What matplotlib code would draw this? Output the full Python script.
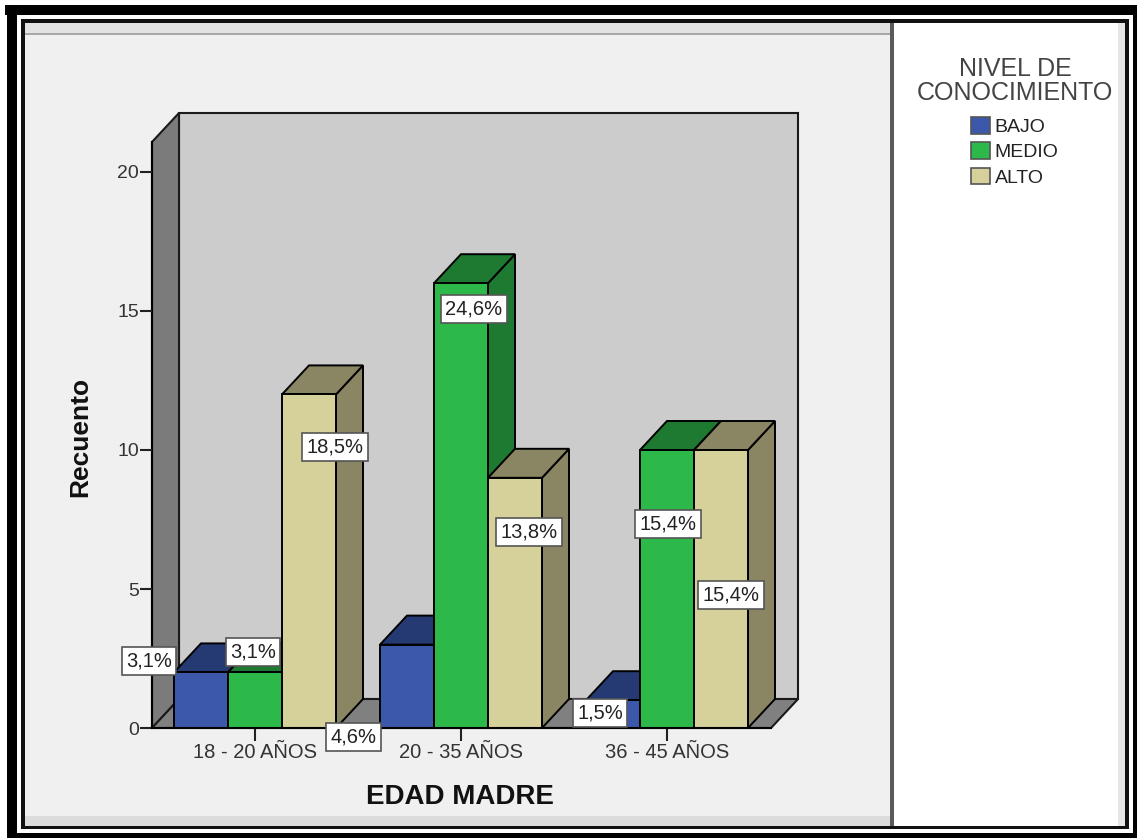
import matplotlib
matplotlib.use("Agg")
import matplotlib.pyplot as plt
from matplotlib.patches import Polygon, Rectangle

plt.rcParams['font.family'] = ['Liberation Sans', 'DejaVu Sans']

# ---- data -------------------------------------------------------------
categories = ["18 - 20 AÑOS", "20 - 35 AÑOS", "36 - 45 AÑOS"]
series = ["BAJO", "MEDIO", "ALTO"]
bajo = [2, 3, 1]
medio = [2, 16, 10]
alto = [12, 9, 10]
yticks = [0, 5, 10, 15, 20]

values = {"BAJO": bajo, "MEDIO": medio, "ALTO": alto}
total = sum(bajo) + sum(medio) + sum(alto)

# ---- style ------------------------------------------------------------
front_col = {"BAJO": "#3c58aa", "MEDIO": "#2db84a", "ALTO": "#d6d19b"}
shade_col = {"BAJO": "#253a72", "MEDIO": "#1e7a30", "ALTO": "#8a8562"}

# label anchors (data coords) for the percentage boxes
label_pos = {
    "BAJO": [(-0.515, 2.41), (0.48, -0.32), (1.675, 0.54)],
    "MEDIO": [(-0.01, 2.73), (1.063, 15.07), (2.005, 7.34)],
    "ALTO": [(0.388, 10.1), (1.33, 7.05), (2.31, 4.78)],
}

W, H = 1137, 838
fig = plt.figure(figsize=(W / 100, H / 100), dpi=100)
fig.patch.set_facecolor("white")


def frect(x0, y0, x1, y1, **kw):
    """Rectangle in pixel coordinates (origin top-left)."""
    fig.patches.append(Rectangle((x0 / W, 1 - y1 / H), (x1 - x0) / W, (y1 - y0) / H,
                                 transform=fig.transFigure, figure=fig,
                                 edgecolor="none", zorder=-10, **kw))


# outer frame and panels
frect(25, 23, 892, 826, facecolor="#f0f0f0")
frect(25, 23, 892, 33, facecolor="#e2e2e2")
frect(25, 33, 892, 35, facecolor="#a8a8a8")
frect(25, 816, 892, 826, facecolor="#dcdcdc")
frect(894, 23, 1125, 826, facecolor="white")
frect(890, 23, 894, 826, facecolor="#5a5a5a")
frect(1118, 23, 1125, 826, facecolor="#e6e6e6")
# inner dark line
frect(21, 19, 1129, 23, facecolor="#111111")
frect(21, 19, 25, 829, facecolor="#111111")
frect(1125, 19, 1129, 829, facecolor="#111111")
frect(21, 826, 1129, 829, facecolor="#111111")
# outer thick black border
frect(5, 5, 1137, 15, facecolor="black")
frect(7, 5, 17, 838, facecolor="black")
frect(1133, 5, 1137, 838, facecolor="black")
frect(7, 833, 1137, 838, facecolor="black")

# ---- axes mapped onto the plot region ----------------------------------
CX0, CXS = 255.0, 206.0      # pixel x of first category, px per category
VY0, VYS = 728.0, 27.8       # pixel y of value 0, px per unit
ax_l, ax_r, ax_t, ax_b = 100, 850, 90, 790
ax = fig.add_axes([ax_l / W, 1 - ax_b / H, (ax_r - ax_l) / W, (ax_b - ax_t) / H])
ax.set_zorder(5)
ax.set_xlim((ax_l - CX0) / CXS, (ax_r - CX0) / CXS)
ax.set_ylim((VY0 - ax_b) / VYS, (VY0 - ax_t) / VYS)
ax.patch.set_visible(False)

dx, dy = 27 / CXS, 29 / VYS          # oblique depth offset
x_left, x_right = -0.5, 2.505
wall_top = 21.08

# back wall, side wall, floor
ax.add_patch(Polygon([(x_left + dx, dy), (x_right + dx, dy), (x_right + dx, wall_top + dy),
                      (x_left + dx, wall_top + dy)], closed=True, facecolor="#cccccc",
                     edgecolor="#1a1a1a", lw=1.5, zorder=1))
ax.add_patch(Polygon([(x_left, 0), (x_left, wall_top), (x_left + dx, wall_top + dy),
                      (x_left + dx, dy)], closed=True, facecolor="#7b7b7b",
                     edgecolor="#1a1a1a", lw=1.5, zorder=1))
ax.add_patch(Polygon([(x_left, 0), (x_right, 0), (x_right + dx, dy), (x_left + dx, dy)],
                     closed=True, facecolor="#808080", edgecolor="#1a1a1a", lw=1.5, zorder=1))

# ---- bars --------------------------------------------------------------
bw = 54 / CXS
z = 2
handles = []
for g in range(len(categories)):
    for s, name in enumerate(series):
        v = values[name][g]
        x0 = g - 1.5 * bw + s * bw
        x1 = x0 + bw
        side = Polygon([(x1, 0), (x1, v), (x1 + dx, v + dy), (x1 + dx, dy)], closed=True,
                       facecolor=shade_col[name], edgecolor="black", lw=1.4, zorder=z)
        top = Polygon([(x0, v), (x1, v), (x1 + dx, v + dy), (x0 + dx, v + dy)], closed=True,
                      facecolor=shade_col[name], edgecolor="black", lw=1.4, zorder=z)
        ax.add_patch(side)
        ax.add_patch(top)
        b = ax.bar(x0, v, width=bw, align="edge", color=front_col[name], edgecolor="black",
                   lw=1.4, zorder=z + 0.5)
        if g == 0:
            handles.append(b)
        z += 1

# percentage boxes
for name in series:
    for g, (lx, ly) in enumerate(label_pos[name]):
        pct = values[name][g] / total * 100
        txt = f"{pct:.1f}%".replace(".", ",")
        ax.text(lx, ly, txt, ha="center", va="center", fontsize=14.5, color="#222222",
                zorder=50,
                bbox=dict(boxstyle="square,pad=0.22", facecolor="white",
                          edgecolor="#555555", lw=1.2))

# ---- axes decoration ---------------------------------------------------
for sp in ["top", "right"]:
    ax.spines[sp].set_visible(False)
ax.spines["left"].set_position(("data", x_left))
ax.spines["left"].set_bounds(0, wall_top)
ax.spines["left"].set_linewidth(1.5)
ax.spines["left"].set_zorder(1.5)
ax.spines["bottom"].set_position(("data", 0))
ax.spines["bottom"].set_bounds(x_left, x_right)
ax.spines["bottom"].set_linewidth(1.5)
ax.spines["bottom"].set_zorder(20)

ax.set_yticks(yticks)
ax.set_yticklabels([str(t) for t in yticks])
ax.set_xticks(range(len(categories)))
ax.set_xticklabels(categories)
ax.tick_params(axis="y", direction="out", length=8.5, width=1.5, color="#222222",
               labelsize=14, labelcolor="#333333", pad=1)
ax.tick_params(axis="x", direction="out", length=9, width=1.5, color="#222222",
               labelsize=14.5, labelcolor="#333333", pad=2)

fig.text(460 / W, 1 - 797 / H, "EDAD MADRE", ha="center", va="center",
         fontsize=20, fontweight="bold", color="#111111")
fig.text(80 / W, 1 - 437 / H, "Recuento", ha="center", va="center", rotation=90,
         fontsize=19, fontweight="bold", color="#111111")

# ---- legend ------------------------------------------------------------
leg = fig.legend(handles=handles, labels=series, title="NIVEL DE\nCONOCIMIENTO",
                 loc="upper center", bbox_to_anchor=(1015 / W, 1 - 43 / H),
                 frameon=False, fontsize=14, title_fontsize=18, alignment="center",
                 handlelength=0.95, handleheight=0.95, handletextpad=0.25,
                 labelspacing=0.32, borderpad=0.2)
leg.get_title().set_color("#444444")
leg.get_title().set_multialignment("center")
leg.get_title().set_linespacing(1.0)
leg._legend_box.sep = 9
for t in leg.get_texts():
    t.set_color("#222222")
for p in leg.legend_handles:
    p.set_edgecolor("#555555")
    p.set_linewidth(1.2)

fig.savefig("out.png", dpi=100)
